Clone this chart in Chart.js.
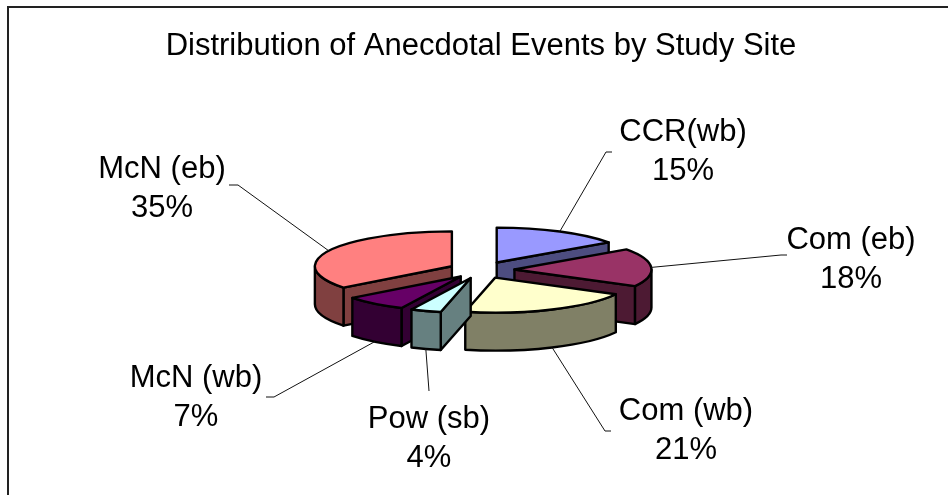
<!DOCTYPE html>
<html>
<head>
<meta charset="utf-8">
<style>html,body{margin:0;padding:0;background:#fff}canvas{display:block}</style>
<script src="https://cdn.jsdelivr.net/npm/chart.js@4"></script>
</head>
<body>
<canvas id="c" width="948" height="495"></canvas>
<script>
const chartTitle = 'Distribution of Anecdotal Events by Study Site';
const categories = ['CCR(wb)', 'Com (eb)', 'Com (wb)', 'Pow (sb)', 'McN (wb)', 'McN (eb)'];
const shares = [15.2, 17.6, 20.6, 3.6, 7.4, 35.4];
const topColors = ['#9999FF', '#993366', '#FFFFCC', '#CCFFFF', '#660066', '#FF8080'];
const sideColors = ['#4D4D80', '#4D1A33', '#808066', '#668080', '#330033', '#804040'];

// Drawing style and view
const paintOrder = [0, 5, 1, 4, 2, 3];
const view = {cx: 481.5, cy: 270, tilt: 0.255, depth: 38, explode: 33, radius: 137};
const FONT = '31px "Liberation Sans", Arial, sans-serif';
const labelCentres = [[683, 132], [851, 240], [686, 411], [429, 419], [196, 378], [162, 169]];
const leaderEnds = [[606, 152], [781, 255], [605, 431], [429, 391], [274, 397], [238, 185]];
const leaderTails = [6, 6, 6, 0, -8, -9];

function pt(arc, angle, r) {
  const mid = (arc.startAngle + arc.endAngle) / 2;
  return {
    x: view.cx + view.explode * Math.cos(mid) + r * Math.cos(angle),
    y: view.cy + view.tilt * (view.explode * Math.sin(mid) + r * Math.sin(angle))
  };
}
function paint(ctx, fill) {
  ctx.fillStyle = fill; ctx.fill();
  ctx.lineWidth = 2.4; ctx.strokeStyle = '#000'; ctx.lineJoin = 'round'; ctx.stroke();
}
function radialWall(ctx, arc, angle, fill) {
  const a = pt(arc, angle, 0), b = pt(arc, angle, view.radius);
  ctx.beginPath();
  ctx.moveTo(a.x, a.y); ctx.lineTo(b.x, b.y);
  ctx.lineTo(b.x, b.y + view.depth); ctx.lineTo(a.x, a.y + view.depth);
  ctx.closePath();
  paint(ctx, fill);
}
function drawSlice(ctx, arc, side) {
  const s = arc.startAngle, e = arc.endAngle, o = pt(arc, 0, 0);
  const ry = view.radius * view.tilt;
  if (Math.sin(s - Math.PI / 2) > 0) radialWall(ctx, arc, s, side);
  if (Math.sin(e + Math.PI / 2) > 0) radialWall(ctx, arc, e, side);
  const lo = Math.max(s, 0), hi = Math.min(e, Math.PI);
  if (hi > lo) {
    ctx.beginPath();
    ctx.ellipse(o.x, o.y, view.radius, ry, 0, lo, hi);
    ctx.ellipse(o.x, o.y + view.depth, view.radius, ry, 0, hi, lo, true);
    ctx.closePath();
    paint(ctx, side);
  }
  // top face: the library's own arc element, tilted
  ctx.save();
  ctx.translate(o.x, o.y);
  ctx.scale(1, view.tilt);
  ctx.translate(-arc.x, -arc.y);
  arc.draw(ctx);
  ctx.restore();
  ctx.beginPath();
  ctx.moveTo(o.x, o.y);
  ctx.ellipse(o.x, o.y, view.radius, ry, 0, s, e);
  ctx.closePath();
  ctx.lineWidth = 2.4; ctx.strokeStyle = '#000'; ctx.lineJoin = 'round'; ctx.stroke();
}

const pie3d = {
  id: 'pie3d',
  beforeDraw(chart) {
    const ctx = chart.ctx;
    ctx.save();
    ctx.strokeStyle = '#222'; ctx.lineWidth = 2;
    ctx.beginPath();
    ctx.moveTo(948, 7); ctx.lineTo(8, 7); ctx.lineTo(8, 495);
    ctx.stroke();
    ctx.restore();
  },
  beforeDatasetDraw(chart, args) {
    const ctx = chart.ctx, arcs = args.meta.data;
    paintOrder.forEach(i => drawSlice(ctx, arcs[i], sideColors[i]));
    return false;
  },
  afterDatasetsDraw(chart) {
    const ctx = chart.ctx, arcs = chart.getDatasetMeta(0).data;
    const total = shares.reduce((a, b) => a + b, 0);
    ctx.save();
    ctx.textAlign = 'center'; ctx.textBaseline = 'middle';
    ctx.font = FONT; ctx.fillStyle = '#000';
    categories.forEach((name, i) => {
      const arc = arcs[i], mid = (arc.startAngle + arc.endAngle) / 2;
      const p = pt(arc, mid, view.radius);
      const y0 = p.y + (Math.sin(mid) > 0.5 ? view.depth : 0);
      const [ex, ey] = leaderEnds[i];
      ctx.beginPath();
      ctx.moveTo(p.x, y0); ctx.lineTo(ex, ey);
      if (leaderTails[i]) ctx.lineTo(ex + leaderTails[i], ey);
      ctx.lineWidth = 1; ctx.strokeStyle = '#111'; ctx.stroke();
      const [cx, cy] = labelCentres[i];
      ctx.fillText(name, cx, cy);
      ctx.fillText(Math.round(shares[i] / total * 100) + '%', cx, cy + 39);
    });
    ctx.restore();
  }
};

new Chart(document.getElementById('c'), {
  type: 'pie',
  data: {
    labels: categories,
    datasets: [{data: shares, backgroundColor: topColors, borderWidth: 0, radius: view.radius}]
  },
  options: {
    responsive: false,
    animation: false,
    layout: {padding: {left: 14}},
    plugins: {
      legend: {display: false},
      tooltip: {enabled: false},
      title: {
        display: true, text: chartTitle, color: '#000',
        font: {family: '"Liberation Sans", Arial, sans-serif', size: 31, weight: 'normal'},
        padding: {top: 28, bottom: 10}
      }
    }
  },
  plugins: [pie3d]
});
</script>
</body>
</html>
